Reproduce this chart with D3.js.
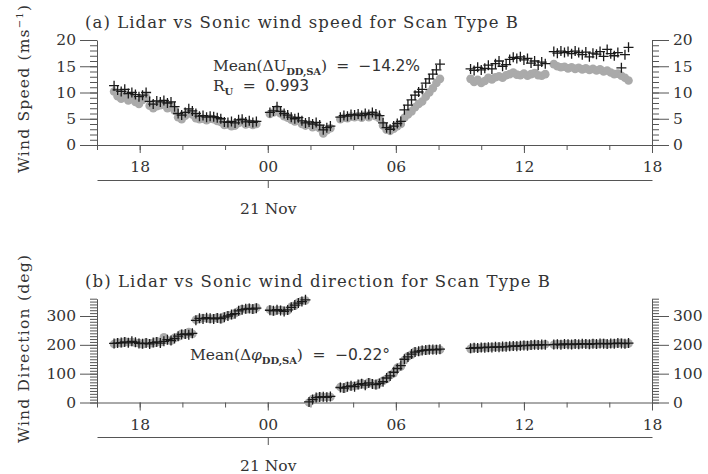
<!DOCTYPE html>
<html>
<head>
<meta charset="utf-8">
<script src="https://cdn.jsdelivr.net/npm/d3@7"></script>
<style>
  body { margin: 0; background: #fff; }
  text { fill: #333; }
</style>
</head>
<body>
<div id="chart"></div>
<script>
// hours relative to 00 UTC 21 Nov; each run is sampled every 10 minutes
const runStart = [-7.2, 0.1, 3.4, 9.5, 13.4];

const lidarSpeed = [
  [11.3,10.5,10.2,10.6,9.8,10.0,9.6,9.2,9.5,10.0,8.3,7.8,8.4,8.2,8.5,8.0,8.2,7.3,6.0,5.7,6.2,6.9,6.5,6.0,5.5,5.6,5.3,5.5,5.4,5.2,5.0,4.4,4.3,4.5,4.2,4.8,4.9,4.4,4.6,4.3,4.5],
  [6.2,6.5,7.3,6.4,6.0,5.7,5.3,5.0,5.2,4.6,4.2,4.4,4.0,4.3,3.8,2.9,3.3,3.6],
  [5.3,5.6,5.5,5.8,5.7,5.9,5.6,6.0,5.8,6.2,5.9,5.6,4.2,3.3,3.0,3.6,4.1,4.5,6.7,7.6,8.6,9.5,10.1,10.6,11.8,12.6,13.5,14.3,15.4],
  [14.5,14.2,14.8,14.3,14.6,15.2,14.5,15.5,16.0,15.0,15.3,16.3,16.7,16.5,16.8,16.2,16.5,15.6,16.0,15.2,15.8,15.5],
  [17.8,17.5,17.9,17.6,17.8,17.4,17.9,17.6,17.2,17.7,16.8,17.5,17.3,17.8,16.9,18.2,17.4,17.0,17.6,14.7,17.2,18.6]
];
const sonicSpeed = [
  [10.2,9.3,8.8,9.6,8.5,9.0,8.2,7.8,8.6,9.1,7.5,7.0,7.4,7.6,7.8,7.0,7.5,6.6,5.3,4.9,5.6,6.2,5.8,5.1,4.9,5.0,4.7,5.0,4.9,4.6,4.4,3.8,3.9,3.6,3.7,4.2,4.4,3.9,4.1,3.8,4.0],
  [5.9,6.2,6.8,6.0,5.5,5.2,4.8,4.5,4.7,4.0,3.7,3.9,3.4,3.6,3.2,2.2,2.8,3.2],
  [4.9,5.2,5.1,5.4,5.3,5.5,5.2,5.6,5.3,5.7,5.5,5.1,3.7,2.9,2.7,3.1,3.6,4.0,5.2,5.8,6.4,7.2,7.8,8.3,9.2,10.0,10.8,11.8,12.6],
  [12.6,12.0,12.4,11.8,12.2,12.8,12.5,12.9,13.1,12.8,13.3,13.5,13.8,13.4,13.3,13.6,13.2,13.5,13.7,13.3,13.2,13.5],
  [15.4,15.0,14.8,14.9,14.6,14.8,14.5,14.7,14.4,14.6,14.3,14.5,14.2,14.4,14.0,14.2,13.8,13.5,13.6,13.2,12.8,12.3]
];
const lidarDir = [
  [205,206,208,210,207,212,209,205,204,206,203,208,210,206,212,218,215,222,230,236,238,235,240,285,292,290,294,292,290,293,291,296,300,305,308,318,322,325,326,324,327],
  [320,318,322,319,316,321,330,338,345,350,356,2,10,17,19,20,18,21],
  [52,50,55,58,55,62,65,60,68,64,62,66,72,85,92,105,118,128,150,158,168,175,178,180,182,183,184,183,185],
  [188,190,189,191,190,192,191,193,192,194,193,195,196,195,197,198,197,199,200,199,201,200],
  [201,202,200,203,202,201,203,202,204,203,202,204,203,205,204,203,205,204,206,205,204,206]
];
const sonicDir = [
  [203,208,206,211,209,210,207,206,202,208,205,206,212,209,226,216,214,224,228,238,236,244,238,287,290,293,292,290,292,295,289,298,302,303,310,316,324,323,328,322,329],
  [322,316,320,321,318,319,332,336,347,352,354,0,12,15,21,18,20,19],
  [54,48,57,56,58,60,67,62,70,66,60,68,75,82,95,102,120,125,147,160,166,177,176,182,180,185,182,185,183],
  [186,191,188,190,192,190,193,192,194,192,195,194,195,197,196,199,198,198,201,200,199,202],
  [200,203,201,202,203,200,204,201,203,204,201,205,202,204,206,202,204,205,205,207,203,205]
];

const hourTicks = [-6, 0, 6, 12, 18];
const hourLabels = ["18", "00", "06", "12", "18"];
const speedTicks = [0, 5, 10, 15, 20];
const dirTicks = [0, 100, 200, 300];
const dateLabel = "21 Nov";

const serif = "'DejaVu Serif', serif";
const sans = "'DejaVu Sans', sans-serif";

const svg = d3.select("#chart").append("svg")
    .attr("width", 708)
    .attr("height", 474);

const x = d3.scaleLinear().domain([-8, 18]).range([97, 652]);

function toPoints(runs) {
    return runs.flatMap((vals, r) => vals.map((v, i) => ({ t: runStart[r] + i / 6, v: v })));
}

function styleAxis(sel, size) {
    sel.selectAll("path, line").attr("stroke", "#555").attr("stroke-width", 1);
    sel.selectAll("text").attr("font-family", serif).attr("font-size", size).attr("fill", "#333");
}

function drawPanel(p) {
    const y = d3.scaleLinear().domain(p.domain).range([p.bottom, p.top]);
    const g = svg.append("g");

    // y axes, left and right: minor comb + labelled major ticks
    [[d3.axisLeft, 97], [d3.axisRight, 652]].forEach(([axis, px]) => {
        g.append("g")
            .attr("transform", `translate(${px},0)`)
            .call(axis(y).tickValues(d3.range(p.domain[0], p.domain[1] + 0.001, p.minor)).tickSize(7).tickFormat(""))
            .call(s => s.select(".domain").remove())
            .call(s => styleAxis(s, 15));
        g.append("g")
            .attr("transform", `translate(${px},0)`)
            .call(axis(y).tickValues(p.major).tickSize(17).tickSizeOuter(0).tickPadding(4))
            .call(s => styleAxis(s, 15.5));
    });

    // hour axis
    g.append("g")
        .attr("transform", `translate(0,${p.bottom})`)
        .call(d3.axisBottom(x).tickValues(d3.range(-8, 18.01, 2)).tickSize(5).tickFormat(""))
        .call(s => s.select(".domain").remove())
        .call(s => styleAxis(s, 15));
    g.append("g")
        .attr("transform", `translate(0,${p.bottom})`)
        .call(d3.axisBottom(x).tickValues(hourTicks).tickFormat((d, i) => hourLabels[i])
            .tickSize(8).tickSizeOuter(0).tickPadding(8))
        .call(s => styleAxis(s, 15.5));

    // date axis
    g.append("g")
        .attr("transform", `translate(0,${p.dateY})`)
        .call(d3.axisBottom(x).tickValues([0]).tickFormat(() => dateLabel)
            .tickSize(8).tickSizeOuter(0).tickPadding(15))
        .call(s => styleAxis(s, 15.5));

    // sonic: grey dots, lidar: plus signs
    g.append("g").selectAll("circle")
        .data(toPoints(p.sonic))
        .enter().append("circle")
        .attr("cx", d => x(d.t))
        .attr("cy", d => y(d.v))
        .attr("r", 4.3)
        .attr("fill", "#aaaaaa");

    g.append("g").selectAll("path")
        .data(toPoints(p.lidar))
        .enter().append("path")
        .attr("d", d => `M${x(d.t) - 5},${y(d.v)}h10M${x(d.t)},${y(d.v) - 5}v10`)
        .attr("stroke", "#1a1a1a")
        .attr("stroke-width", 1.3)
        .attr("fill", "none");

    // title
    g.append("text")
        .attr("x", 85).attr("y", p.titleY)
        .attr("font-family", serif).attr("font-size", 16.5)
        .attr("textLength", p.titleLen).attr("lengthAdjust", "spacing")
        .text(p.title);

    // y label
    const yl = g.append("text")
        .attr("transform", `translate(29,${p.labelMid})rotate(-90)`)
        .attr("text-anchor", "middle")
        .attr("font-family", serif).attr("font-size", 15.5)
        .attr("textLength", p.labelLen).attr("lengthAdjust", "spacing");
    p.label(yl);

    return y;
}

drawPanel({
    domain: [0, 20], top: 40, bottom: 145, dateY: 180,
    major: speedTicks, minor: 1,
    lidar: lidarSpeed, sonic: sonicSpeed,
    title: "(a) Lidar vs Sonic wind speed for Scan Type B", titleY: 28, titleLen: 433,
    labelMid: 89, labelLen: 168,
    label: t => {
        t.append("tspan").text("Wind Speed (ms");
        t.append("tspan").attr("font-size", 10).attr("dy", -6).text("\u22121");
        t.append("tspan").attr("dy", 6).text(")");
    }
});

drawPanel({
    domain: [0, 360], top: 298.7, bottom: 402.5, dateY: 437,
    major: dirTicks, minor: 10,
    lidar: lidarDir, sonic: sonicDir,
    title: "(b) Lidar vs Sonic wind direction for Scan Type B", titleY: 287, titleLen: 465,
    labelMid: 349, labelLen: 188,
    label: t => t.text("Wind Direction (deg)")
});

// statistics annotations
function stat(xp, yp, len, parts) {
    const t = svg.append("text").attr("x", xp).attr("y", yp).attr("font-size", 15.5)
        .attr("xml:space", "preserve");
    parts.forEach(([str, fam, opts]) => {
        const s = t.append("tspan").attr("font-family", fam).text(str);
        if (opts) Object.entries(opts).forEach(([k, v]) => s.attr(k, v));
    });
    t.attr("textLength", len).attr("lengthAdjust", "spacing");
}

stat(213, 71, 207, [
    ["Mean(\u0394U", serif],
    ["DD,SA", serif, { "font-size": 10, "dy": 4, "font-weight": "bold" }],
    [")", serif, { "dy": -4 }],
    ["  =  \u221214.2%", sans]
]);
stat(213, 91, 96, [
    ["R", serif],
    ["U", serif, { "font-size": 10, "dy": 4, "font-weight": "bold" }],
    ["  =  0.993", sans, { "dy": -4 }]
]);
stat(190, 360, 200, [
    ["Mean(\u0394", serif],
    ["\u03c6", serif, { "font-style": "italic" }],
    ["DD,SA", serif, { "font-size": 10, "dy": 4, "font-weight": "bold" }],
    [")", serif, { "dy": -4 }],
    ["  =  \u22120.22\u00b0", sans]
]);
</script>
</body>
</html>
